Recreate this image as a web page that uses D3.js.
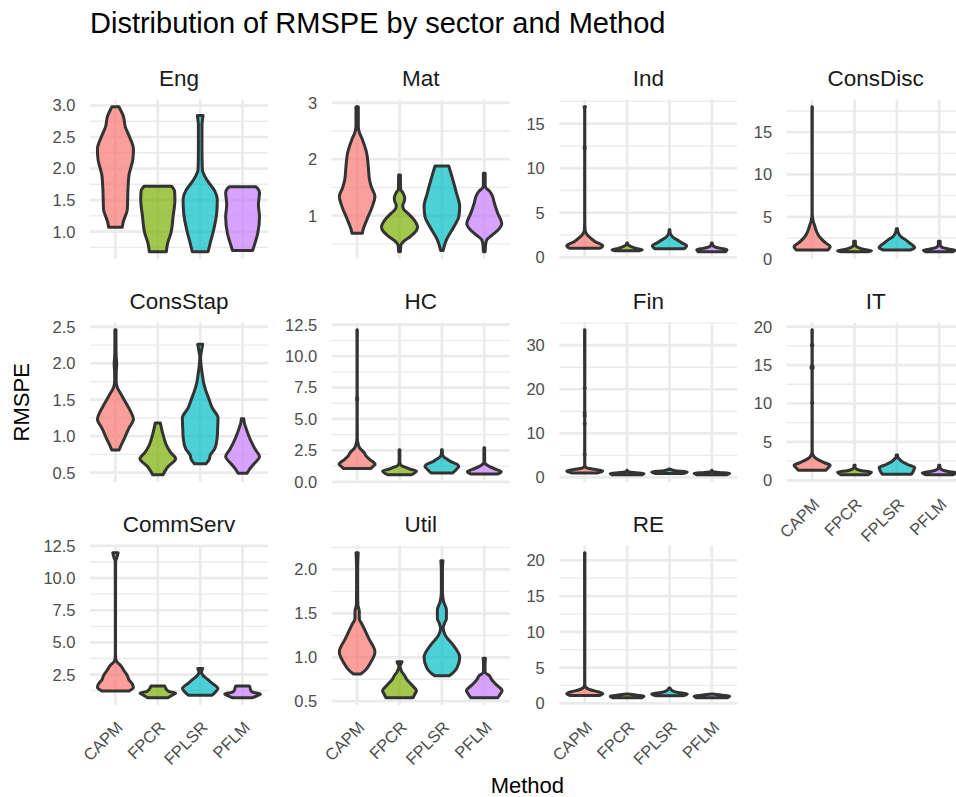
<!DOCTYPE html>
<html>
<head>
<meta charset="utf-8">
<script src="https://cdn.jsdelivr.net/npm/d3@7"></script>
<style>
  body { margin: 0; background: #ffffff; }
  svg { display: block; }
</style>
</head>
<body>
<svg id="chart" width="956" height="797"></svg>
<script>
// ---- data -------------------------------------------------------------
const methods = ["CAPM", "FPCR", "FPLSR", "PFLM"];
const sectors = ["Eng", "Mat", "Ind", "ConsDisc", "ConsStap", "HC", "Fin", "IT", "CommServ", "Util", "RE"];
const methodColors = ["#F8766D", "#7CAE00", "#00BFC4", "#C77CFF"];

// Violin profiles per sector: for each method a list of [RMSPE, relative density],
// ordered from the lowest to the highest RMSPE (trimmed to the data range).
const violinsEng = [
  [[1.07,0.38],[1.16,0.44],[1.27,0.58],[1.35,0.66],[1.62,0.69],[1.89,0.75],[2.15,0.97],[2.31,1.0],[2.49,0.80],[2.66,0.55],[2.83,0.44],[2.98,0.19]],
  [[0.68,0.47],[0.82,0.55],[0.98,0.73],[1.24,0.85],[1.51,0.95],[1.64,0.93],[1.70,0.82],[1.72,0.75]],
  [[0.68,0.44],[0.82,0.56],[1.03,0.75],[1.30,0.92],[1.51,0.95],[1.65,0.80],[1.78,0.47],[1.88,0.25],[1.98,0.12],[2.30,0.10],[2.68,0.10],[2.84,0.16]],
  [[0.70,0.56],[0.79,0.66],[0.97,0.84],[1.23,0.94],[1.43,0.88],[1.62,0.94],[1.68,0.85],[1.71,0.75]]
];
const violinsMat = [
  [[0.69,0.29],[0.74,0.32],[0.92,0.53],[1.16,0.84],[1.34,0.99],[1.50,0.80],[1.63,0.69],[1.87,0.62],[2.11,0.53],[2.35,0.29],[2.50,0.10],[2.58,0.065],[2.93,0.065]],
  [[0.36,0.05],[0.48,0.08],[0.53,0.19],[0.63,0.60],[0.72,0.90],[0.80,1.0],[0.92,0.82],[1.04,0.47],[1.12,0.22],[1.18,0.18],[1.25,0.26],[1.31,0.29],[1.40,0.20],[1.47,0.06],[1.72,0.05]],
  [[0.38,0.065],[0.57,0.25],[0.80,0.66],[0.98,0.94],[1.16,0.99],[1.40,0.81],[1.69,0.56],[1.88,0.38]],
  [[0.36,0.05],[0.48,0.07],[0.57,0.14],[0.66,0.45],[0.74,0.75],[0.86,0.97],[1.04,0.75],[1.22,0.56],[1.35,0.45],[1.43,0.30],[1.50,0.08],[1.55,0.05],[1.75,0.05]]
];
const violinsInd = [
  [[1.0,0.8],[1.15,0.95],[1.33,1.0],[1.55,0.8],[1.71,0.62],[2.0,0.42],[2.28,0.25],[2.7,0.08],[3.04,0.02],[4.0,0.005],[12.0,0.005],[12.3,0.03],[12.6,0.005],[16.6,0.005],[16.9,0.04]],
  [[0.72,0.66],[0.84,0.84],[1.0,0.5],[1.22,0.19],[1.4,0.05],[1.6,0.02]],
  [[0.95,0.80],[1.1,0.9],[1.33,0.95],[1.6,0.7],[1.9,0.47],[2.2,0.22],[2.47,0.1],[2.8,0.03],[3.1,0.02]],
  [[0.62,0.75],[0.84,0.84],[1.0,0.5],[1.14,0.19],[1.35,0.05],[1.6,0.02]]
];
const violinsConsDisc = [
  [[1.08,0.88],[1.3,0.97],[1.5,1.0],[1.91,0.75],[2.3,0.55],[2.72,0.38],[3.3,0.24],[3.94,0.14],[4.5,0.06],[5.16,0.01],[6.0,0.005],[18.0,0.01]],
  [[0.87,0.75],[1.0,0.94],[1.15,0.55],[1.3,0.29],[1.5,0.1],[1.7,0.05],[2.1,0.05]],
  [[1.08,0.75],[1.2,0.9],[1.38,0.99],[1.7,0.84],[2.0,0.65],[2.3,0.47],[2.6,0.25],[2.93,0.12],[3.3,0.05],[3.6,0.03]],
  [[0.87,0.75],[1.05,0.88],[1.2,0.5],[1.35,0.2],[1.5,0.1],[1.7,0.05],[2.1,0.05]]
];
const violinsConsStap = [
  [[0.81,0.2],[0.85,0.27],[0.97,0.5],[1.11,0.75],[1.23,1.0],[1.35,0.82],[1.44,0.62],[1.57,0.32],[1.67,0.1],[1.76,0.04],[1.9,0.05],[1.99,0.07],[2.1,0.04],[2.3,0.03],[2.46,0.03]],
  [[0.47,0.29],[0.52,0.4],[0.58,0.56],[0.69,0.99],[0.78,0.7],[0.88,0.47],[0.97,0.35],[1.06,0.25],[1.18,0.14]],
  [[0.62,0.32],[0.68,0.5],[0.74,0.56],[0.83,0.81],[0.97,0.94],[1.11,0.97],[1.25,0.99],[1.39,0.66],[1.5,0.5],[1.62,0.32],[1.72,0.2],[1.81,0.14],[1.94,0.065],[2.08,0.02],[2.18,0.08],[2.26,0.14]],
  [[0.49,0.25],[0.55,0.4],[0.61,0.6],[0.72,0.94],[0.82,0.7],[0.93,0.47],[1.02,0.32],[1.11,0.19],[1.18,0.1],[1.24,0.065]]
];
const violinsHC = [
  [[1.05,0.75],[1.25,0.9],[1.39,1.0],[1.79,0.69],[2.05,0.5],[2.33,0.38],[2.7,0.14],[3.0,0.06],[3.5,0.01],[6.3,0.005],[6.6,0.03],[6.9,0.005],[12.1,0.01]],
  [[0.56,0.66],[0.86,0.94],[1.0,0.6],[1.12,0.38],[1.3,0.1],[1.53,0.02],[2.55,0.02]],
  [[0.7,0.6],[0.9,0.75],[1.05,0.85],[1.23,0.94],[1.39,0.84],[1.6,0.5],[1.8,0.29],[2.0,0.1],[2.2,0.03],[2.55,0.02]],
  [[0.62,0.75],[0.8,0.94],[0.99,0.66],[1.2,0.3],[1.39,0.1],[1.6,0.02],[2.7,0.02]]
];
const violinsFin = [
  [[1.0,0.7],[1.3,0.95],[1.5,1.0],[1.8,0.6],[2.1,0.15],[2.5,0.02],[3.0,0.005],[5.0,0.005],[5.2,0.03],[5.4,0.005],[12.0,0.005],[12.2,0.03],[12.4,0.005],[13.8,0.005],[14.0,0.03],[14.35,0.01],[14.7,0.03],[14.9,0.005],[20.1,0.005],[20.3,0.03],[20.5,0.005],[33.5,0.01]],
  [[0.6,0.85],[0.9,0.94],[1.1,0.4],[1.3,0.05],[1.6,0.01]],
  [[0.9,0.8],[1.22,0.99],[1.5,0.3],[1.9,0.02]],
  [[0.62,0.85],[0.92,0.99],[1.1,0.4],[1.3,0.05],[1.6,0.01]]
];
const violinsIT = [
  [[1.3,0.75],[1.7,0.92],[1.96,1.0],[2.31,0.66],[2.65,0.35],[2.98,0.14],[3.3,0.05],[3.6,0.01],[4.0,0.005],[9.8,0.005],[10.1,0.03],[10.4,0.005],[14.3,0.005],[14.7,0.06],[15.1,0.005],[17.3,0.005],[17.6,0.04],[17.9,0.005],[19.6,0.01]],
  [[0.72,0.75],[1.07,0.94],[1.25,0.4],[1.42,0.14],[1.65,0.04],[1.95,0.03]],
  [[0.78,0.8],[1.1,0.9],[1.4,0.95],[1.64,0.99],[2.09,0.56],[2.4,0.3],[2.76,0.14],[3.0,0.05],[3.3,0.03]],
  [[0.72,0.75],[0.98,0.94],[1.15,0.5],[1.33,0.19],[1.6,0.05],[1.95,0.03]]
];
const violinsCommServ = [
  [[1.22,0.75],[1.4,0.95],[1.51,1.0],[1.77,0.94],[2.1,0.75],[2.42,0.66],[2.8,0.48],[3.21,0.29],[3.5,0.08],[3.73,0.02],[4.2,0.005],[11.3,0.01],[11.6,0.08],[11.97,0.15]],
  [[0.7,0.56],[0.9,0.8],[1.06,0.99],[1.2,0.6],[1.37,0.47],[1.62,0.38]],
  [[0.9,0.66],[1.15,0.85],[1.43,0.99],[1.64,0.84],[1.9,0.6],[2.16,0.38],[2.45,0.15],[2.68,0.07],[2.85,0.1],[2.98,0.14]],
  [[0.7,0.56],[0.85,0.8],[0.98,0.99],[1.12,0.6],[1.24,0.47],[1.45,0.42],[1.62,0.38]]
];
const violinsUtil = [
  [[0.81,0.2],[0.85,0.44],[0.94,0.75],[1.06,0.99],[1.21,0.66],[1.3,0.45],[1.37,0.29],[1.44,0.12],[1.52,0.12],[1.6,0.04],[1.8,0.03],[2.0,0.03],[2.19,0.06]],
  [[0.54,0.75],[0.58,0.85],[0.62,0.94],[0.69,0.66],[0.75,0.4],[0.79,0.29],[0.84,0.12],[0.87,0.06],[0.90,0.03],[0.93,0.1],[0.95,0.14]],
  [[0.79,0.4],[0.82,0.6],[0.88,0.84],[1.0,0.99],[1.13,0.66],[1.25,0.19],[1.33,0.07],[1.39,0.15],[1.44,0.25],[1.54,0.25],[1.63,0.1],[1.75,0.03],[2.0,0.03],[2.10,0.06]],
  [[0.54,0.75],[0.58,0.88],[0.62,0.99],[0.69,0.66],[0.75,0.4],[0.79,0.29],[0.83,0.05],[0.9,0.04],[0.99,0.065]]
];
const violinsRE = [
  [[1.1,0.84],[1.33,1.0],[1.67,0.66],[1.9,0.3],[2.14,0.1],[2.5,0.01],[3.0,0.005],[21.05,0.01]],
  [[0.78,0.8],[1.0,0.94],[1.15,0.5],[1.3,0.05]],
  [[1.05,0.75],[1.29,0.99],[1.52,0.47],[1.8,0.14],[2.15,0.03]],
  [[0.78,0.85],[1.0,0.99],[1.15,0.5],[1.3,0.05]]
];

// y-axis tick labels of each facet (free scales), in the order of `sectors`
const yTickLabels = [
  ["1.0","1.5","2.0","2.5","3.0"],
  ["1","2","3"],
  ["0","5","10","15"],
  ["0","5","10","15"],
  ["0.5","1.0","1.5","2.0","2.5"],
  ["0.0","2.5","5.0","7.5","10.0","12.5"],
  ["0","10","20","30"],
  ["0","5","10","15","20"],
  ["2.5","5.0","7.5","10.0","12.5"],
  ["0.5","1.0","1.5","2.0"],
  ["0","5","10","15","20"]
];

const violinsBySector = {
  Eng: violinsEng, Mat: violinsMat, Ind: violinsInd, ConsDisc: violinsConsDisc,
  ConsStap: violinsConsStap, HC: violinsHC, Fin: violinsFin, IT: violinsIT,
  CommServ: violinsCommServ, Util: violinsUtil, RE: violinsRE
};

// ---- layout -----------------------------------------------------------
const FONT = "'Liberation Sans', Arial, Helvetica, sans-serif";
const PANEL_W = 178, PANEL_H = 159.5;
const colLeft = [90, 331.7, 559.3, 786.7];
const rowTop = [99.5, 322.5, 545.5];
const NCOL = 4;
const GRID = "#EBEBEB";

const svg = d3.select("#chart");

// plot title
svg.append("text")
  .attr("x", 90).attr("y", 33)
  .attr("font-family", FONT).attr("font-size", 29)
  .attr("fill", "#000")
  .text("Distribution of RMSPE by sector and Method");

const nRows = Math.ceil(sectors.length / NCOL);

sectors.forEach((sector, i) => {
  const col = i % NCOL, row = Math.floor(i / NCOL);
  const g = svg.append("g")
    .attr("transform", `translate(${colLeft[col]},${rowTop[row]})`);

  const violins = violinsBySector[sector];

  // discrete x (ggplot default expansion of 0.6 units per side)
  const x = d3.scalePoint().domain(methods).range([0, PANEL_W]).padding(0.6);
  const step = x.step();

  // continuous y with 5% expansion of the data range
  const allV = violins.flat().map(d => d[0]);
  const lo = d3.min(allV), hi = d3.max(allV);
  const pad = (hi - lo) * 0.05;
  const y = d3.scaleLinear().domain([lo - pad, hi + pad]).range([PANEL_H, 0]);
  const [dLo, dHi] = y.domain();

  const labels = yTickLabels[i];
  const majors = labels.map(Number);
  const tickStep = majors[1] - majors[0];
  const minors = [];
  for (let k = -1; k < majors.length; k++) {
    const m = majors[0] + (k + 0.5) * tickStep;
    if (m >= dLo && m <= dHi) minors.push(m);
  }

  // minor horizontal grid
  g.selectAll("line.minor").data(minors).join("line")
    .attr("x1", 0).attr("x2", PANEL_W)
    .attr("y1", d => y(d)).attr("y2", d => y(d))
    .attr("stroke", GRID).attr("stroke-width", 1.35);
  // major horizontal grid
  g.selectAll("line.majorY").data(majors.filter(d => d >= dLo && d <= dHi)).join("line")
    .attr("x1", 0).attr("x2", PANEL_W)
    .attr("y1", d => y(d)).attr("y2", d => y(d))
    .attr("stroke", GRID).attr("stroke-width", 2.7);
  // major vertical grid
  g.selectAll("line.majorX").data(methods).join("line")
    .attr("x1", d => x(d)).attr("x2", d => x(d))
    .attr("y1", 0).attr("y2", PANEL_H)
    .attr("stroke", GRID).attr("stroke-width", 2.7);

  // violins
  const maxHalf = 0.425 * step;
  methods.forEach((m, j) => {
    const cx = x(m);
    const area = d3.area()
      .curve(d3.curveMonotoneY)
      .y(d => y(d[0]))
      .x0(d => cx - d[1] * maxHalf)
      .x1(d => cx + d[1] * maxHalf);
    g.append("path")
      .attr("d", area(violins[j]))
      .attr("fill", methodColors[j])
      .attr("fill-opacity", 0.7)
      .attr("stroke", "#333333")
      .attr("stroke-width", 3)
      .attr("stroke-linejoin", "round");
  });

  // y-axis labels
  g.selectAll("text.ytick").data(labels).join("text")
    .attr("x", -14.5)
    .attr("y", d => y(+d))
    .attr("dy", "0.36em")
    .attr("text-anchor", "end")
    .attr("font-family", FONT).attr("font-size", 16.5)
    .attr("fill", "#4D4D4D")
    .text(d => d);

  // strip label
  g.append("text")
    .attr("x", PANEL_W / 2).attr("y", -14)
    .attr("text-anchor", "middle")
    .attr("font-family", FONT).attr("font-size", 22.5)
    .attr("fill", "#1A1A1A")
    .text(sector);

  // x-axis labels for panels without a panel below
  const hasBelow = (i + NCOL) < sectors.length;
  if (!hasBelow) {
    g.selectAll("text.xtick").data(methods).join("text")
      .attr("transform", d => `translate(${x(d)},${PANEL_H + 15}) rotate(-45)`)
      .attr("dy", "0.72em")
      .attr("text-anchor", "end")
      .attr("font-family", FONT).attr("font-size", 16.5)
      .attr("fill", "#4D4D4D")
      .text(d => d);
  }
});

// axis titles
const panelsMidY = (rowTop[0] + rowTop[nRows - 1] + PANEL_H) / 2;
svg.append("text")
  .attr("transform", `translate(29,${panelsMidY}) rotate(-90)`)
  .attr("text-anchor", "middle")
  .attr("font-family", FONT).attr("font-size", 22)
  .attr("fill", "#000")
  .text("RMSPE");

svg.append("text")
  .attr("x", (colLeft[0] + colLeft[NCOL - 1] + PANEL_W) / 2)
  .attr("y", 793)
  .attr("text-anchor", "middle")
  .attr("font-family", FONT).attr("font-size", 22)
  .attr("fill", "#000")
  .text("Method");
</script>
</body>
</html>
